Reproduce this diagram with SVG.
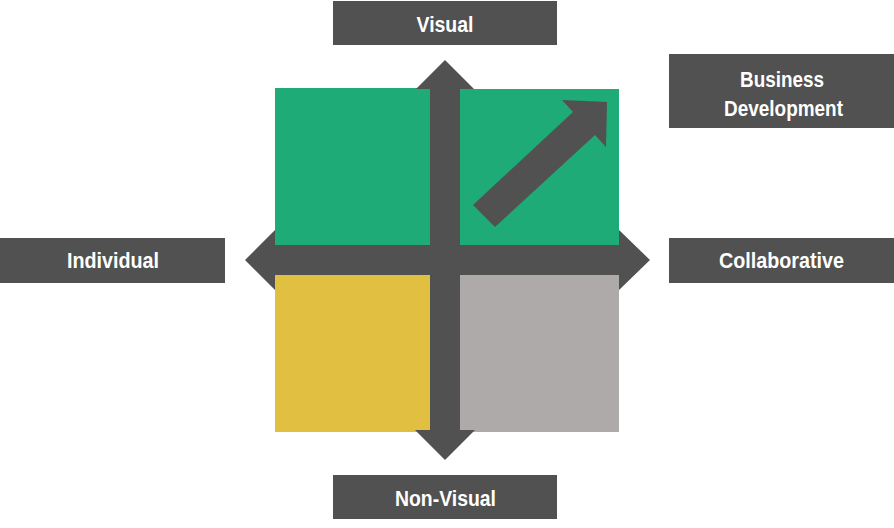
<svg xmlns="http://www.w3.org/2000/svg" width="894" height="528" viewBox="0 0 894 528">
  <style>
    .box { fill: #515151; }
    .lbl { fill: #ffffff; font-family: "Liberation Sans", Arial, sans-serif; font-weight: bold; font-size: 22px; text-anchor: middle; }
    .axis { fill: #515151; }
  </style>
  <rect width="894" height="528" fill="#ffffff"/>
  <g id="quadrant-top-left"><rect x="275" y="88" width="155" height="157" fill="#1EAB77"/></g>
  <g id="quadrant-top-right"><rect x="460" y="89" width="159" height="156" fill="#1EAB77"/></g>
  <g id="quadrant-bottom-left"><rect x="275" y="275" width="155" height="157" fill="#E1BF40"/></g>
  <g id="quadrant-bottom-right"><rect x="460" y="275" width="159" height="157" fill="#ADAAA9"/></g>
  <g id="connectors">
    <polygon class="axis" points="445,60 474,89 460,89 460,430 475,430 445,460 415,430 430,430 430,89 416,89"/>
    <polygon class="axis" points="245,260 275,230 275,245 619,245 619,230 650,260 619,290 619,275 275,275 275,290"/>
    <polygon class="axis" points="607,102 562,100 573,112 473,205 495,227 595,135 606,147"/>
  </g>
  <g id="node-visual">
    <rect class="box" x="333" y="1" width="224" height="44"/>
    <text class="lbl" x="445" y="32" textLength="57" lengthAdjust="spacingAndGlyphs">Visual</text>
  </g>
  <g id="node-non-visual">
    <rect class="box" x="333" y="475" width="224" height="44"/>
    <text class="lbl" x="445.5" y="506" textLength="101" lengthAdjust="spacingAndGlyphs">Non-Visual</text>
  </g>
  <g id="node-individual">
    <rect class="box" x="0" y="238" width="225" height="45"/>
    <text class="lbl" x="113" y="268" textLength="92" lengthAdjust="spacingAndGlyphs">Individual</text>
  </g>
  <g id="node-collaborative">
    <rect class="box" x="669" y="238" width="225" height="45"/>
    <text class="lbl" x="781.5" y="268" textLength="125" lengthAdjust="spacingAndGlyphs">Collaborative</text>
  </g>
  <g id="node-business-development">
    <rect class="box" x="669" y="54" width="225" height="74"/>
    <text class="lbl" x="782" y="87" textLength="84" lengthAdjust="spacingAndGlyphs">Business</text>
    <text class="lbl" x="783.5" y="116" textLength="119" lengthAdjust="spacingAndGlyphs">Development</text>
  </g>
</svg>
